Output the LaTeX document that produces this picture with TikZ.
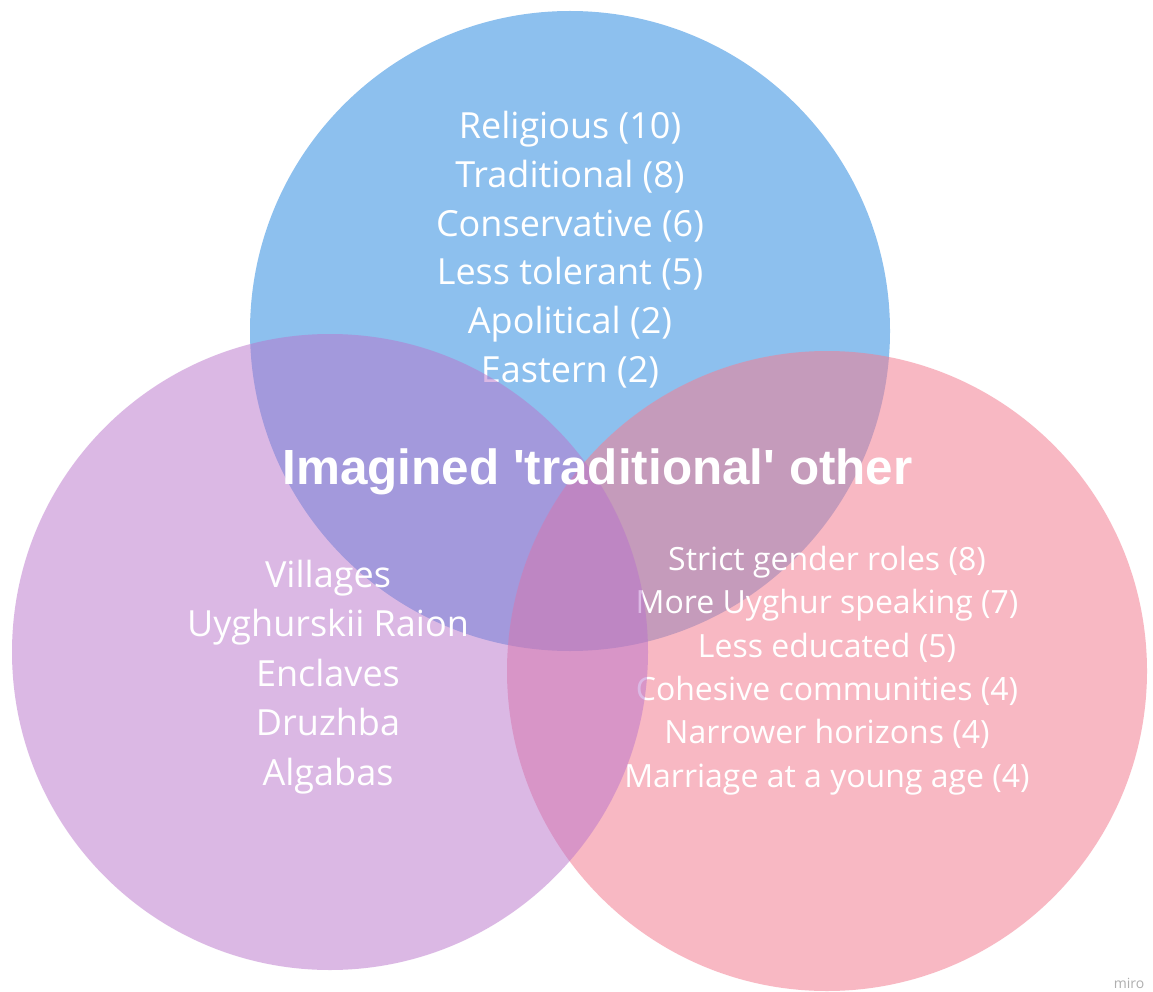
\documentclass[tikz,border=0pt]{standalone}
\usepackage{fontspec}
\setmainfont{Open Sans}
\newfontfamily\titlefont{Liberation Sans}
\definecolor{bluec}{RGB}{141,192,238}
\definecolor{pinkc}{RGB}{244,126,146}
\definecolor{purplec}{RGB}{185,115,203}
\definecolor{miroc}{RGB}{175,175,175}
\begin{document}
\begin{tikzpicture}[x=1pt,y=-1pt,
  setc/.style={circle, inner sep=0pt, draw=none, minimum size=#1},
  bluetxt/.style={text=white, anchor=base, inner sep=0pt, font=\fontsize{36}{42}\selectfont},
  purpletxt/.style={text=white, anchor=base, inner sep=0pt, font=\fontsize{36}{42}\selectfont},
  pinktxt/.style={text=white, anchor=base, inner sep=0pt, font=\fontsize{32}{38}\selectfont},
  titletxt/.style={text=white, anchor=base, inner sep=0pt, font=\titlefont\bfseries\fontsize{49.4}{56}\selectfont}]
\useasboundingbox (0,0) rectangle (1153,992);
\fill[white] (0,0) rectangle (1153,992);
% blue set
\node[setc=640pt, fill=bluec] (blue) at (570,331) {};
\node[bluetxt] (b1) at (570,139) {Religious (10)};
\node[bluetxt] (b2) at (570,187.6) {Traditional (8)};
\node[bluetxt] (b3) at (570,236.2) {Conservative (6)};
\node[bluetxt] (b4) at (570,284.8) {Less tolerant (5)};
\node[bluetxt] (b5) at (570,333.4) {Apolitical (2)};
\node[bluetxt] (b6) at (570,382) {Eastern (2)};
% pink set
\node[setc=640pt, fill=pinkc, fill opacity=0.55] (pink) at (827,671) {};
\node[pinktxt] (k1) at (827,570) {Strict gender roles (8)};
\node[pinktxt] (k2) at (827,613.7) {More Uyghur speaking (7)};
\node[pinktxt] (k3) at (827,657) {Less educated (5)};
\node[pinktxt] (k4) at (827,700.3) {Cohesive communities (4)};
\node[pinktxt] (k5) at (827,743.7) {Narrower horizons (4)};
\node[pinktxt] (k6) at (827,787) {Marriage at a young age (4)};
% purple set
\node[setc=636pt, fill=purplec, fill opacity=0.5] (purple) at (330,652) {};
\node[purpletxt] (p1) at (328,587) {Villages};
\node[purpletxt] (p2) at (328,636.5) {Uyghurskii Raion};
\node[purpletxt] (p3) at (328,686) {Enclaves};
\node[purpletxt] (p4) at (328,735.5) {Druzhba};
\node[purpletxt] (p5) at (328,785) {Algabas};
% title
\node[titletxt] (title) at (597.5,484) {Imagined 'traditional' other};
\node[text=miroc, anchor=base, inner sep=0pt, font=\fontsize{14}{16}\selectfont] (miro) at (1129,988) {miro};
\end{tikzpicture}
\end{document}
